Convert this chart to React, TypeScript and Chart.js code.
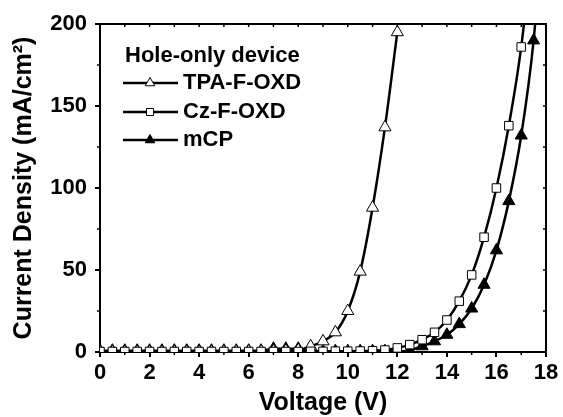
import React, { useEffect, useRef } from "react";
import { Chart, registerables } from "chart.js";
import { drawPoint } from "chart.js/helpers";

Chart.register(...registerables);

const FONT = "'Liberation Sans', Arial, sans-serif";

const legendTitle = "Hole-only device";
const seriesNames = ["TPA-F-OXD", "Cz-F-OXD", "mCP"];

const voltage = [0, 0.5, 1, 1.5, 2, 2.5, 3, 3.5, 4, 4.5, 5, 5.5, 6, 6.5, 7, 7.5, 8, 8.5, 9, 9.5, 10, 10.5, 11, 11.5, 12, 12.5, 13, 13.5, 14, 14.5, 15, 15.5, 16, 16.5, 17, 17.5, 18];

const tpaValues = [0.2, 0.2, 0.2, 0.2, 0.2, 0.2, 0.2, 0.2, 0.2, 0.2, 0.3, 0.3, 0.4, 0.5, 0.6, 0.8, 1.2, 3.5, 6.5, 12, 25, 49, 88, 137, 195];
const czValues = [0.3, 0.3, 0.3, 0.3, 0.3, 0.3, 0.3, 0.3, 0.3, 0.3, 0.3, 0.3, 0.3, 0.3, 0.3, 0.3, 0.3, 0.4, 0.4, 0.5, 0.5, 0.6, 0.8, 1.2, 2.5, 4.5, 7.5, 12, 19.5, 31, 47, 70, 100, 138, 186, 255];
const mcpValues = [0.8, 0.8, 0.8, 0.8, 0.8, 0.8, 0.8, 0.8, 0.8, 0.8, 0.8, 0.8, 0.8, 0.8, 2, 2, 2, 0.5, 0.5, 0.5, 0.5, 0.5, 0.5, 0.5, 0.3, 1, 3.5, 6.5, 10.5, 17, 26.5, 41, 62, 92, 132, 190, 285];

const xTicks = [0, 2, 4, 6, 8, 10, 12, 14, 16, 18];
const xMinorTicks = [1, 3, 5, 7, 9, 11, 13, 15, 17];
const yTicks = [0, 50, 100, 150, 200];
const yMinorTicks = [25, 75, 125, 175];

const toXY = (vals: number[]) => vals.map((y, i) => ({ x: voltage[i], y }));

const markers = [
  { style: "triangle", radius: 7, legendRadius: 5.5, fill: "#ffffff" },
  { style: "rect", radius: 6, legendRadius: 5, fill: "#ffffff" },
  { style: "triangle", radius: 7, legendRadius: 5.5, fill: "#000000" },
];

const framePlugin = {
  id: "frameTicks",
  afterDatasetsDraw(chart: any) {
    const { ctx, chartArea: a, scales } = chart;
    const xs = scales.x;
    const ys = scales.y;
    ctx.save();
    ctx.strokeStyle = "#000";
    ctx.lineWidth = 2;
    ctx.beginPath();
    ctx.moveTo(a.left, a.top);
    ctx.lineTo(a.right, a.top);
    ctx.lineTo(a.right, a.bottom);
    ctx.stroke();
    ctx.lineWidth = 1.5;
    ctx.beginPath();
    for (const v of xMinorTicks) {
      const px = xs.getPixelForValue(v);
      ctx.moveTo(px, a.bottom);
      ctx.lineTo(px, a.bottom + 3);
    }
    for (const v of yMinorTicks) {
      const py = ys.getPixelForValue(v);
      ctx.moveTo(a.left, py);
      ctx.lineTo(a.left - 3, py);
    }
    for (const v of [...xTicks, ...xMinorTicks]) {
      const px = xs.getPixelForValue(v);
      ctx.moveTo(px, a.top);
      ctx.lineTo(px, a.top + 3);
    }
    for (const v of [...yTicks, ...yMinorTicks]) {
      const py = ys.getPixelForValue(v);
      ctx.moveTo(a.right, py);
      ctx.lineTo(a.right - 3, py);
    }
    ctx.stroke();

    // legend
    ctx.fillStyle = "#000";
    ctx.font = `bold 22px ${FONT}`;
    ctx.textBaseline = "alphabetic";
    ctx.textAlign = "left";
    ctx.fillText(legendTitle, 125, 62);
    const rowY = [83, 112, 140];
    seriesNames.forEach((name, i) => {
      const y = rowY[i];
      ctx.lineWidth = 2.5;
      ctx.strokeStyle = "#000";
      ctx.beginPath();
      ctx.moveTo(123, y);
      ctx.lineTo(178, y);
      ctx.stroke();
      ctx.fillStyle = markers[i].fill;
      ctx.lineWidth = 1;
      drawPoint(ctx, { pointStyle: markers[i].style, radius: markers[i].legendRadius, borderWidth: 1, rotation: 0 } as any, 150, y);
      ctx.fillStyle = "#000";
      ctx.textBaseline = "middle";
      ctx.fillText(name, 183, y);
    });
    ctx.restore();
  },
};

export default function App() {
  const ref = useRef<HTMLCanvasElement>(null);
  useEffect(() => {
    document.body.style.margin = "0";
    const values = [tpaValues, czValues, mcpValues];
    const chart = new Chart(ref.current!, {
      type: "line",
      data: {
        datasets: values.map((vals, i) => ({
          label: seriesNames[i],
          data: toXY(vals),
          borderColor: "#000",
          borderWidth: 2.5,
          cubicInterpolationMode: "monotone" as const,
          pointStyle: markers[i].style as any,
          pointRadius: markers[i].radius,
          pointBackgroundColor: markers[i].fill,
          pointBorderColor: "#000",
          pointBorderWidth: 1,
          order: i === 1 ? 0 : i === 0 ? 1 : 2,
        })),
      },
      options: {
        animation: false,
        responsive: false,
        events: [],
        layout: { padding: { top: 24, right: 17, left: 0, bottom: 0 } },
        plugins: { legend: { display: false }, tooltip: { enabled: false } },
        scales: {
          x: {
            type: "linear",
            min: 0,
            max: 18,
            afterFit: (s: any) => { s.height = 65; },
            afterBuildTicks: (s: any) => { s.ticks = xTicks.map((v) => ({ value: v })); },
            ticks: { color: "#000", font: { size: 22, weight: "bold", family: FONT }, padding: 3, maxRotation: 0 },
            grid: { drawOnChartArea: false, drawTicks: true, tickLength: 5, color: "#000", lineWidth: 2 },
            border: { display: true, color: "#000", width: 2 },
            title: { display: true, text: "Voltage (V)", color: "#000", font: { size: 25, weight: "bold", family: FONT, lineHeight: 1 }, padding: { top: 0, bottom: 1.5 } },
          },
          y: {
            type: "linear",
            min: 0,
            max: 200,
            afterFit: (s: any) => { s.width = 100; },
            afterBuildTicks: (s: any) => { s.ticks = yTicks.map((v) => ({ value: v })); },
            ticks: { color: "#000", font: { size: 22, weight: "bold", family: FONT }, padding: 8 },
            grid: { drawOnChartArea: false, drawTicks: true, tickLength: 5, color: "#000", lineWidth: 2 },
            border: { display: true, color: "#000", width: 2 },
            title: { display: true, text: "Current Density (mA/cm²)", color: "#000", font: { size: 25, weight: "bold", family: FONT, lineHeight: 1 }, padding: { top: 11.5, bottom: 0 } },
          },
        },
      },
      plugins: [framePlugin],
    });
    return () => chart.destroy();
  }, []);
  return <canvas ref={ref} width={563} height={417} style={{ display: "block" }} />;
}
